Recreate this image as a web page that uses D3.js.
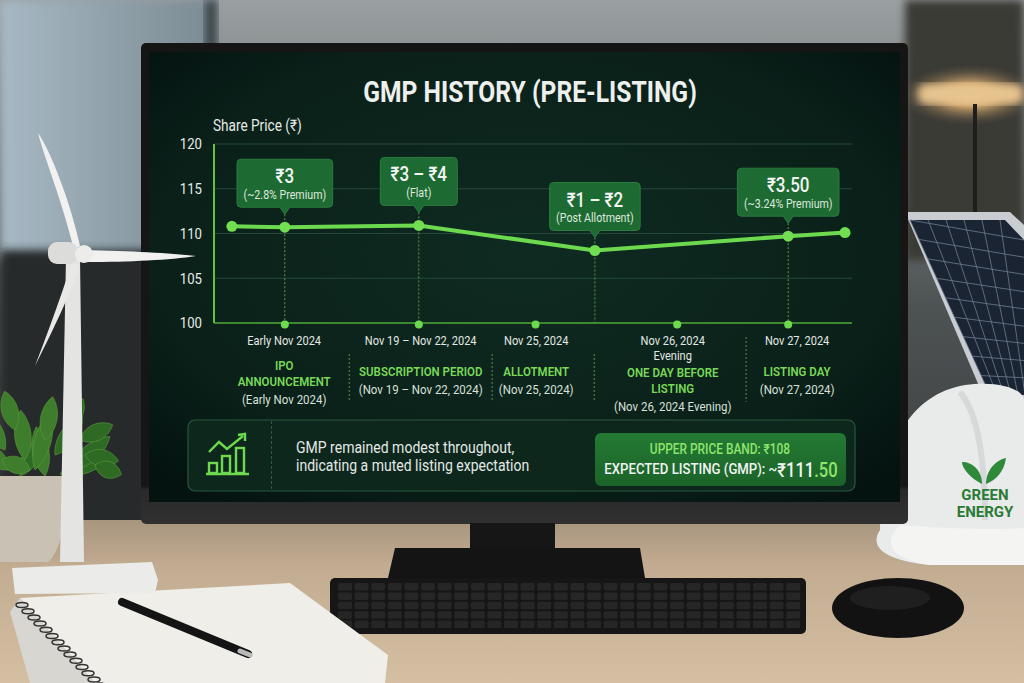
<!DOCTYPE html>
<html>
<head>
<meta charset="utf-8">
<script src="https://cdn.jsdelivr.net/npm/d3@7"></script>
<style>
  body { margin: 0; background: #2b2d2e; overflow: hidden; }
  svg text { font-family: Roboto, "Noto Sans", "DejaVu Sans", sans-serif; }
</style>
</head>
<body>
<div id="chart"></div>
<script>
// ---- data ----
const yTicks = [100, 105, 110, 115, 120];

// x position along the plot (0-100) and share price for each point of the line
const lineX = [2.8, 11.1, 32.1, 59.7, 90.0, 98.9];
const lineY = [110.8, 110.7, 110.9, 108.1, 109.7, 110.1];

// callouts hang over these points of the line
const calloutPoint = [1, 2, 3, 4];
const calloutMain = ['₹3', '₹3 – ₹4', '₹1 – ₹2', '₹3.50'];
const calloutSub = ['(~2.8% Premium)', '(Flat)', '(Post Allotment)', '(~3.24% Premium)'];

// stages along the bottom
const stageDotX = [11.1, 32.1, 50.4, 72.6, 90.0];
const stageLabelX = [11.0, 32.4, 50.5, 71.9, 91.4];
const stageDates = [['Early Nov 2024'], ['Nov 19 – Nov 22, 2024'], ['Nov 25, 2024'], ['Nov 26, 2024', 'Evening'], ['Nov 27, 2024']];
const stageNames = [['IPO', 'ANNOUNCEMENT'], ['SUBSCRIPTION PERIOD'], ['ALLOTMENT'], ['ONE DAY BEFORE', 'LISTING'], ['LISTING DAY']];
const stageRanges = ['(Early Nov 2024)', '(Nov 19 – Nov 22, 2024)', '(Nov 25, 2024)', '(Nov 26, 2024 Evening)', '(Nov 27, 2024)'];
const separatorX = [21.2, 43.6, 59.6, 83.4];

const summaryLines = ['GMP remained modest throughout,', 'indicating a muted listing expectation'];
const upperBand = 'UPPER PRICE BAND: ₹108';
const expectedLabel = 'EXPECTED LISTING (GMP): ~';
const expectedValue = ['₹111', '.50'];

// ---- layout ----
const W = 1024, H = 683;
const plot = { left: 214, right: 852, top: 144, bottom: 323 };
const condense = 0.85; // the screen font is a narrow one

const svg = d3.select('#chart').append('svg')
  .attr('width', W).attr('height', H);

const defs = svg.append('defs');

function linear(id, x2, y2, stops) {
  const g = defs.append('linearGradient').attr('id', id)
    .attr('x1', 0).attr('y1', 0).attr('x2', x2).attr('y2', y2);
  stops.forEach(s => g.append('stop').attr('offset', s[0]).attr('stop-color', s[1]));
}
linear('room', 0, 1, [[0, '#9a9fa1'], [0.45, '#4d5252'], [1, '#2e3030']]);
linear('window', 1, 0, [[0, '#a7b9c4'], [1, '#7b8a92']]);
linear('desk', 0, 1, [[0, '#a8957e'], [0.3, '#c3ad92'], [1, '#d4bfa3']]);
linear('bandBox', 0, 1, [[0, '#247a33'], [1, '#1b6329']]);
linear('bezel', 0, 1, [[0, '#151515'], [0.92, '#161616'], [0.93, '#2a2a2a'], [1, '#303030']]);

const screenGrad = defs.append('radialGradient').attr('id', 'screen')
  .attr('cx', '50%').attr('cy', '45%').attr('r', '70%');
screenGrad.append('stop').attr('offset', 0).attr('stop-color', '#0f2b21');
screenGrad.append('stop').attr('offset', 0.7).attr('stop-color', '#0a2019');
screenGrad.append('stop').attr('offset', 1).attr('stop-color', '#041210');

const lamp = defs.append('radialGradient').attr('id', 'lamp');
lamp.append('stop').attr('offset', 0).attr('stop-color', '#ffe2a8');
lamp.append('stop').attr('offset', 0.4).attr('stop-color', '#e9b878').attr('stop-opacity', 0.8);
lamp.append('stop').attr('offset', 1).attr('stop-color', '#6b5a45').attr('stop-opacity', 0);

const blur = defs.append('filter').attr('id', 'blur');
blur.append('feGaussianBlur').attr('stdDeviation', 4);

// ---- the room behind ----
const room = svg.append('g');
room.append('rect').attr('width', W).attr('height', H).attr('fill', 'url(#room)');
room.append('rect').attr('x', 0).attr('y', 0).attr('width', 215).attr('height', 260)
  .attr('fill', 'url(#window)').attr('filter', 'url(#blur)');
room.append('rect').attr('x', 205).attr('y', 0).attr('width', 12).attr('height', 300)
  .attr('fill', '#3d4548').attr('filter', 'url(#blur)');
room.append('rect').attr('x', 0).attr('y', 250).attr('width', 150).attr('height', 280)
  .attr('fill', '#262a2b').attr('filter', 'url(#blur)');
room.append('rect').attr('x', 905).attr('y', 0).attr('width', 119).attr('height', 260)
  .attr('fill', '#3a3a36').attr('filter', 'url(#blur)');
room.append('ellipse').attr('cx', 970).attr('cy', 95).attr('rx', 70).attr('ry', 30).attr('fill', 'url(#lamp)');
room.append('rect').attr('x', 918).attr('y', 84).attr('width', 105).attr('height', 20).attr('rx', 8)
  .attr('fill', '#e7c48f').attr('filter', 'url(#blur)');
room.append('rect').attr('x', 973).attr('y', 104).attr('width', 4).attr('height', 110).attr('fill', '#1e1e1c');
room.append('rect').attr('x', 0).attr('y', 520).attr('width', W).attr('height', H - 520).attr('fill', 'url(#desk)');

// solar panel on the right
const panel = room.append('g');
panel.append('path').attr('d', 'M905,212 L1010,212 L1024,225 L1024,400 L985,400 Z').attr('fill', '#c9ccd0');
panel.append('path').attr('d', 'M910,220 L1005,220 L1024,240 L1024,395 L990,395 Z').attr('fill', '#1b2433');
d3.range(6).forEach(i => {
  panel.append('line').attr('x1', 910 + i * 18).attr('y1', 220).attr('x2', 990 + i * 7).attr('y2', 395)
    .attr('stroke', '#6f7d92').attr('stroke-width', 0.8);
});
d3.range(9).forEach(i => {
  const t = i / 9;
  panel.append('line').attr('x1', 910 + t * 80).attr('y1', 220 + t * 175).attr('x2', 1024).attr('y2', 240 + t * 155)
    .attr('stroke', '#6f7d92').attr('stroke-width', 0.8);
});

// hard hat
const hat = room.append('g');
hat.append('path')
  .attr('d', 'M880,530 C880,455 905,395 965,385 C1000,380 1024,390 1024,400 L1024,565 L930,565 C880,560 870,545 880,530 Z')
  .attr('fill', '#e9eaea');
hat.append('path').attr('d', 'M900,525 C930,528 990,530 1024,528 L1024,565 L930,565 C895,560 880,545 900,525 Z')
  .attr('fill', '#f4f4f3');
hat.append('path').attr('d', 'M960,392 C975,410 985,450 985,520').attr('fill', 'none')
  .attr('stroke', '#d6d8d9').attr('stroke-width', 6);
hat.append('path').attr('d', 'M982,484 C970,478 962,468 962,462 C972,462 982,470 982,484 Z').attr('fill', '#2e8a3a');
hat.append('path').attr('d', 'M986,484 C986,470 996,460 1006,458 C1004,472 996,480 986,484 Z').attr('fill', '#2e8a3a');
hat.append('text').attr('x', 985).attr('y', 500).attr('text-anchor', 'middle')
  .attr('font-size', 15).attr('font-weight', 700).attr('fill', '#2a7b35').text('GREEN');
hat.append('text').attr('x', 985).attr('y', 517).attr('text-anchor', 'middle')
  .attr('font-size', 15).attr('font-weight', 700).attr('fill', '#2a7b35').text('ENERGY');

// ---- monitor ----
const mon = svg.append('g');
mon.append('rect').attr('x', 141).attr('y', 43).attr('width', 767).attr('height', 481).attr('rx', 5)
  .attr('fill', 'url(#bezel)');
mon.append('rect').attr('x', 470).attr('y', 523).attr('width', 85).attr('height', 30).attr('fill', '#161616');
mon.append('path').attr('d', 'M395,548 L640,548 L645,578 L388,578 Z').attr('fill', '#141414');
mon.append('rect').attr('x', 149).attr('y', 52).attr('width', 751).attr('height', 450)
  .attr('fill', 'url(#screen)');

// keyboard
const kb = svg.append('g');
kb.append('rect').attr('x', 330).attr('y', 578).attr('width', 476).attr('height', 56).attr('rx', 5).attr('fill', '#161616');
d3.range(5).forEach(r => {
  d3.range(28).forEach(c => {
    kb.append('rect').attr('x', 338 + c * 16.6).attr('y', 583 + r * 9.4).attr('width', 14).attr('height', 7.5)
      .attr('rx', 1.5).attr('fill', '#262626');
  });
});
svg.append('ellipse').attr('cx', 898).attr('cy', 608).attr('rx', 66).attr('ry', 30).attr('fill', '#121212');
svg.append('ellipse').attr('cx', 890).attr('cy', 598).attr('rx', 40).attr('ry', 12).attr('fill', '#2b2b2b').attr('opacity', 0.5);

// notebook and pen
svg.append('path').attr('d', 'M20,598 L290,583 L388,655 L385,683 L95,683 Z').attr('fill', '#efeee9');
svg.append('path').attr('d', 'M20,598 L95,683 L30,683 L10,612 Z').attr('fill', '#d7d6d1');
d3.range(14).forEach(i => {
  svg.append('ellipse').attr('cx', 22 + i * 6).attr('cy', 605 + i * 6.2).attr('rx', 6).attr('ry', 2.5)
    .attr('fill', 'none').attr('stroke', '#333').attr('stroke-width', 1.5);
});
svg.append('line').attr('x1', 122).attr('y1', 602).attr('x2', 248).attr('y2', 654)
  .attr('stroke', '#141414').attr('stroke-width', 8).attr('stroke-linecap', 'round');
svg.append('line').attr('x1', 240).attr('y1', 651).attr('x2', 250).attr('y2', 655)
  .attr('stroke', '#b9b9b9').attr('stroke-width', 5).attr('stroke-linecap', 'round');

// plant and turbine on the left
const plant = svg.append('g');
plant.append('path').attr('d', 'M0,476 L64,476 C66,520 62,550 48,562 L0,562 Z').attr('fill', '#c9c2b4');
const leaves = [[20, 476, -60, 48], [45, 476, -100, 50], [60, 474, -20, 55], [10, 470, -140, 40],
  [35, 470, -75, 60], [70, 470, -40, 52], [25, 460, -95, 50], [55, 455, -55, 48], [85, 455, 10, 34],
  [5, 450, -120, 45], [45, 440, -80, 44], [80, 440, -25, 36], [30, 470, -160, 30], [95, 465, 20, 28],
  [65, 430, -60, 36], [15, 430, -105, 40]];
leaves.forEach(l => {
  const len = l[3];
  plant.append('path')
    .attr('d', `M0,0 C${len * 0.3},-12 ${len * 0.75},-10 ${len},0 C${len * 0.75},10 ${len * 0.3},12 0,0 Z`)
    .attr('transform', `translate(${l[0]},${l[1]}) rotate(${l[2]})`)
    .attr('fill', l[2] < -70 ? '#3e7d2c' : '#2f6a24').attr('stroke', '#5b9a3c').attr('stroke-width', 0.6);
});

const tb = svg.append('g');
tb.append('path').attr('d', 'M12,568 L152,562 L158,580 L155,593 L15,594 Z').attr('fill', '#ebebea');
tb.append('path').attr('d', 'M66,258 L80,258 L84,562 L60,562 Z').attr('fill', '#e4e4e3');
tb.append('path').attr('d', 'M74,250 C62,200 45,160 38,133 C50,150 70,200 80,246 Z').attr('fill', '#f1f1f0');
tb.append('path').attr('d', 'M84,250 C130,251 170,253 196,256 C170,260 130,262 86,262 Z').attr('fill', '#f1f1f0');
tb.append('path').attr('d', 'M72,262 C60,300 45,340 35,366 C48,340 68,300 80,266 Z').attr('fill', '#e8e8e7');
tb.append('rect').attr('x', 48).attr('y', 242).attr('width', 30).attr('height', 22).attr('rx', 9).attr('fill', '#dcdcdb');
tb.append('circle').attr('cx', 84).attr('cy', 254).attr('r', 9).attr('fill', '#ececeb');

// ---- the chart on the screen ----
const chart = svg.append('g');

function narrow(sel) {
  sel.each(function () {
    const len = this.getComputedTextLength();
    d3.select(this).attr('textLength', len * condense).attr('lengthAdjust', 'spacingAndGlyphs');
  });
  return sel;
}

const x = d3.scaleLinear().domain([0, 100]).range([plot.left, plot.right]);
const y = d3.scaleLinear().domain([100, 120]).range([plot.bottom, plot.top]);

narrow(chart.append('text').attr('x', 530).attr('y', 92).attr('text-anchor', 'middle')
  .attr('dominant-baseline', 'central').attr('font-size', 29).attr('font-weight', 700)
  .attr('fill', '#eef0ee').text('GMP HISTORY (PRE-LISTING)'));

narrow(chart.append('text').attr('x', 213).attr('y', 125).attr('dominant-baseline', 'central')
  .attr('font-size', 16).attr('fill', '#e6ebe7').text('Share Price (₹)'));

// grid and y axis
const yAxis = chart.append('g').attr('transform', `translate(${plot.left},0)`)
  .call(d3.axisLeft(y).tickValues(yTicks).tickSize(0).tickPadding(12));
yAxis.select('.domain').remove();
yAxis.selectAll('text').attr('font-size', 15.5).attr('fill', '#e6ebe7')
  .attr('font-family', 'Roboto, "Noto Sans", sans-serif').call(narrow);

chart.append('g').selectAll('line').data(yTicks.slice(1)).join('line')
  .attr('x1', plot.left).attr('x2', plot.right)
  .attr('y1', d => y(d)).attr('y2', d => y(d))
  .attr('stroke', '#25483a').attr('stroke-width', 1);

chart.append('line').attr('x1', plot.left).attr('x2', plot.left)
  .attr('y1', y(120)).attr('y2', y(100))
  .attr('stroke', '#5fc241').attr('stroke-width', 2);
chart.append('line').attr('x1', plot.left).attr('x2', plot.right)
  .attr('y1', y(100)).attr('y2', y(100))
  .attr('stroke', '#4fa83b').attr('stroke-width', 1.6);

// dotted drops from callouts to the baseline
chart.append('g').selectAll('line').data(calloutPoint).join('line')
  .attr('x1', d => x(lineX[d])).attr('x2', d => x(lineX[d]))
  .attr('y1', d => y(lineY[d]) - 13).attr('y2', y(100))
  .attr('stroke', '#5e9a4c').attr('stroke-width', 1).attr('stroke-dasharray', '2,2');

// stage dots on the baseline
chart.append('g').selectAll('circle').data(stageDotX).join('circle')
  .attr('cx', d => x(d)).attr('cy', y(100) + 1.5).attr('r', 4).attr('fill', '#6cd94f');

// the GMP line
const line = d3.line().x((d, i) => x(lineX[i])).y(d => y(d));
chart.append('path').datum(lineY).attr('d', line)
  .attr('fill', 'none').attr('stroke', '#6cd94f').attr('stroke-width', 4)
  .attr('stroke-linejoin', 'round').attr('stroke-linecap', 'round');
chart.append('g').selectAll('circle').data(lineY).join('circle')
  .attr('cx', (d, i) => x(lineX[i])).attr('cy', d => y(d)).attr('r', 5.5).attr('fill', '#72de52');

// callout boxes
const callouts = chart.append('g').selectAll('g').data(calloutPoint).join('g')
  .attr('transform', d => `translate(${x(lineX[d])},${y(lineY[d]) - 13})`);
callouts.each(function (d, i) {
  const g = d3.select(this);
  const h = 48, p = 7, r = 4;
  const box = g.append('path');
  const t1 = narrow(g.append('text').attr('y', -p - h + 17).attr('text-anchor', 'middle').attr('dominant-baseline', 'central')
    .attr('font-size', 20).attr('font-weight', 500).attr('fill', '#f2f5f2').text(calloutMain[i]));
  const t2 = narrow(g.append('text').attr('y', -p - h + 35).attr('text-anchor', 'middle').attr('dominant-baseline', 'central')
    .attr('font-size', 12.5).attr('fill', '#dfe9df').text(calloutSub[i]));
  const w = Math.max(+t1.attr('textLength') + 14, +t2.attr('textLength') + 13, 77);
  const hw = w / 2;
  box.attr('d', `M${-hw + r},${-p - h} H${hw - r} Q${hw},${-p - h} ${hw},${-p - h + r} V${-p - r} Q${hw},${-p} ${hw - r},${-p}
      H5 L0,0 L-5,${-p} H${-hw + r} Q${-hw},${-p} ${-hw},${-p - r} V${-p - h + r} Q${-hw},${-p - h} ${-hw + r},${-p - h} Z`)
    .attr('fill', '#1e6a33').attr('stroke', '#2a7c3f').attr('stroke-width', 1);
});

// stage labels under the axis
const stages = chart.append('g').selectAll('g').data(stageLabelX).join('g')
  .attr('transform', d => `translate(${x(d)},0)`);
stages.each(function (d, i) {
  const g = d3.select(this);
  stageDates[i].forEach((s, k) => {
    narrow(g.append('text').attr('y', 340.5 + k * 15).attr('text-anchor', 'middle').attr('dominant-baseline', 'central')
      .attr('font-size', 13).attr('fill', '#e3e8e4').text(s));
  });
  const nameTop = stageDates[i].length > 1 ? 372 : (stageNames[i].length > 1 ? 365 : 371);
  stageNames[i].forEach((s, k) => {
    narrow(g.append('text').attr('y', nameTop + k * 16).attr('text-anchor', 'middle').attr('dominant-baseline', 'central')
      .attr('font-size', 13.5).attr('font-weight', 600).attr('fill', '#79d957').text(s));
  });
  narrow(g.append('text').attr('y', nameTop + (stageNames[i].length - 1) * 16 + 17.5)
    .attr('text-anchor', 'middle').attr('dominant-baseline', 'central')
    .attr('font-size', 13.5).attr('fill', '#d9e0da').text(stageRanges[i]));
});

chart.append('g').selectAll('line').data(separatorX).join('line')
  .attr('x1', d => x(d)).attr('x2', d => x(d))
  .attr('y1', (d, i) => i === separatorX.length - 1 ? 337 : 354).attr('y2', 402)
  .attr('stroke', '#4f7d46').attr('stroke-width', 1.2).attr('stroke-dasharray', '2,2');

// summary panel
const sum = chart.append('g');
sum.append('rect').attr('x', 188).attr('y', 420).attr('width', 667).attr('height', 71).attr('rx', 7)
  .attr('fill', '#0d271d').attr('stroke', '#28583f').attr('stroke-width', 1.2);
sum.append('line').attr('x1', 271.5).attr('x2', 271.5).attr('y1', 421).attr('y2', 490)
  .attr('stroke', '#2e5e40').attr('stroke-width', 1).attr('stroke-dasharray', '3,2');

const icon = sum.append('g').attr('fill', 'none').attr('stroke', '#6cd94f').attr('stroke-width', 2.4);
icon.append('rect').attr('x', 209).attr('y', 463).attr('width', 8).attr('height', 10);
icon.append('rect').attr('x', 222).attr('y', 456).attr('width', 8).attr('height', 17);
icon.append('rect').attr('x', 236).attr('y', 448).attr('width', 8).attr('height', 25);
icon.append('line').attr('x1', 206).attr('x2', 249).attr('y1', 474).attr('y2', 474);
icon.append('polyline').attr('points', '209,452 219,442 227,449 243,436');
icon.append('polyline').attr('points', '238,435 245,434 245,441');

summaryLines.forEach((s, k) => {
  narrow(sum.append('text').attr('x', 296).attr('y', 447 + k * 18.5).attr('dominant-baseline', 'central')
    .attr('font-size', 16.5).attr('fill', '#e4e9e5').text(s));
});

sum.append('rect').attr('x', 595).attr('y', 433).attr('width', 251).attr('height', 53).attr('rx', 6)
  .attr('fill', 'url(#bandBox)');
narrow(sum.append('text').attr('x', 720).attr('y', 449).attr('text-anchor', 'middle').attr('dominant-baseline', 'central')
  .attr('font-size', 14).attr('font-weight', 500).attr('fill', '#8fe56d').text(upperBand));
// mixed-size line: squeeze the whole group instead of each tspan
const exp = sum.append('g').attr('transform', `translate(721,469) scale(${condense},1)`)
  .append('text').attr('text-anchor', 'middle').attr('dominant-baseline', 'central').attr('font-weight', 500);
exp.append('tspan').attr('font-size', 15.5).attr('fill', '#f2f4f2').text(expectedLabel);
exp.append('tspan').attr('font-size', 19.5).attr('fill', '#f2f4f2').text(expectedValue[0]);
exp.append('tspan').attr('font-size', 19.5).attr('fill', '#8fe56d').text(expectedValue[1]);
</script>
</body>
</html>
